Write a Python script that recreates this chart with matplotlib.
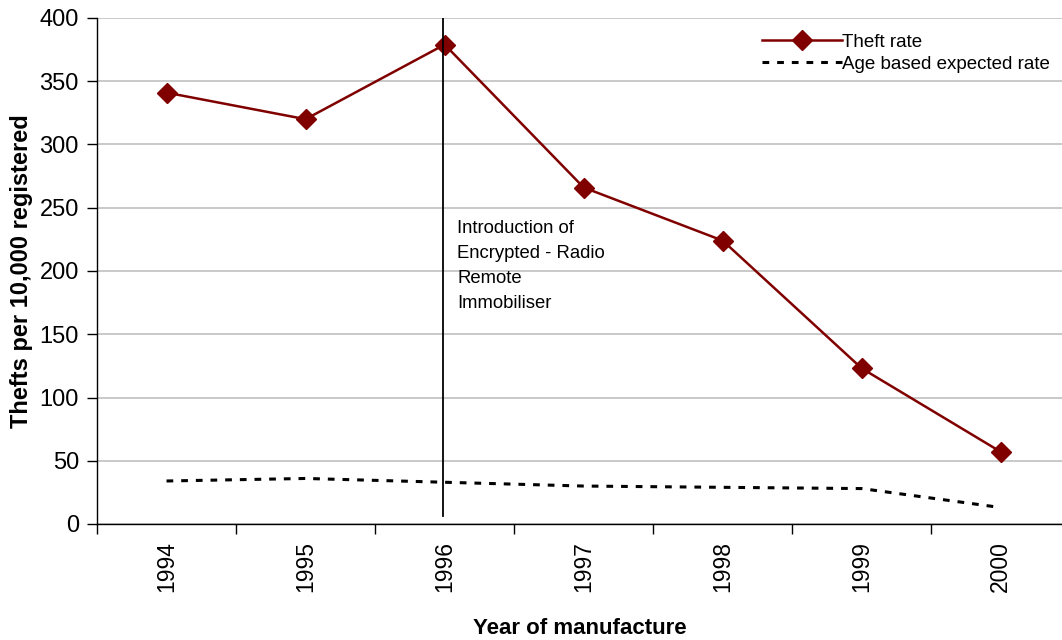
import matplotlib
matplotlib.use("Agg")
import matplotlib.pyplot as plt
import numpy as np

plt.rcParams['font.family'] = ['Liberation Sans', 'DejaVu Sans']

years = ['1994', '1995', '1996', '1997', '1998', '1999', '2000']
theft_rate = [341, 320, 379, 266, 224, 123, 57]
expected_rate = [34, 36, 33, 30, 29, 28, 13]
intro_year = '1996'
annotation = "Introduction of\nEncrypted - Radio\nRemote\nImmobiliser"

fig = plt.figure(figsize=(10.62, 6.40), dpi=100)
ax = fig.add_axes([97/1062, 1 - 524/640, 1 - 97/1062, (524 - 18)/640])

x = np.arange(len(years)) + 0.5
red = '#800000'

ax.plot(x, theft_rate, color=red, lw=1.8, marker='D', ms=10, mfc=red, mec=red,
        label='Theft rate', zorder=4)
ax.plot(x, expected_rate, color='black', lw=2.2, linestyle=(0, (2.2, 2.6)),
        label='Age based expected rate', zorder=3)

xi = years.index(intro_year) + 0.5
ax.plot([xi - 0.015, xi - 0.015], [6, 400], color='black', lw=1.3, zorder=5)
ax.text(xi + 0.09, 240, annotation, fontsize=13.3, va='top', ha='left',
        linespacing=1.6)

ax.set_ylim(0, 400)
ax.set_xlim(0, 6.94)
ax.set_yticks(range(0, 401, 50))
ax.set_xticks(np.arange(0, 7))
ax.set_xticks(x, minor=True)
ax.set_xticklabels([])
ax.set_xticklabels(years, minor=True, rotation=90, fontsize=16.5)
ax.tick_params(axis='x', which='minor', length=0, pad=12)
ax.tick_params(axis='x', which='major', length=7, direction='out', width=1)
ax.tick_params(axis='y', length=7, direction='out', labelsize=17, width=1, pad=6)

ax.grid(axis='y', color='#c0c0c0', lw=1.2)
ax.set_axisbelow(True)
for s in ['top', 'right']:
    ax.spines[s].set_visible(False)
ax.spines['left'].set_linewidth(1)
ax.spines['bottom'].set_linewidth(1)

ax.set_ylabel('Thefts per 10,000 registered', fontsize=17, fontweight='bold')
ax.yaxis.set_label_coords(-0.066, 0.5)
ax.set_xlabel('Year of manufacture', fontsize=16, fontweight='bold')
ax.xaxis.set_label_coords(0.5, -0.185)

leg = ax.legend(loc='upper left', bbox_to_anchor=(0.675, 0.995), frameon=True,
                fontsize=13.5, handlelength=4.3, handletextpad=0.0,
                borderpad=0.2, labelspacing=0.25, fancybox=False)
leg.get_frame().set_edgecolor('white')
leg.get_frame().set_facecolor('white')
leg.get_frame().set_alpha(1)

fig.savefig('out.png', dpi=100)
